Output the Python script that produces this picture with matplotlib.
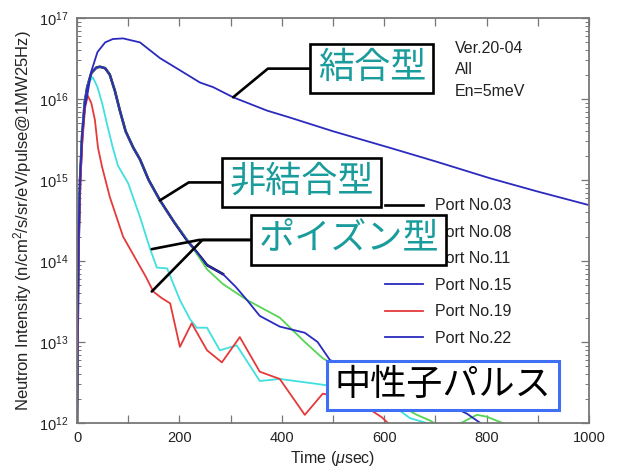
import matplotlib
matplotlib.use("Agg")
import matplotlib.pyplot as plt
from matplotlib.ticker import MultipleLocator

plt.rcParams['font.family'] = ['Liberation Sans', 'Noto Sans CJK JP', 'DejaVu Sans']
plt.rcParams['mathtext.fontset'] = 'custom'
plt.rcParams['mathtext.rm'] = 'Liberation Sans'
plt.rcParams['mathtext.it'] = 'Liberation Sans:italic'

# time (usec) and intensity
t22 = [0, 1, 3, 6, 10, 15, 20, 28, 40, 55, 70, 90, 123, 162, 215, 240, 266, 305,
       371, 416, 500, 611, 700, 807, 900, 1000]
port22 = [7.9e11, 1.0e13, 1.6e14, 1.0e15, 3.5e15, 7.9e15, 1.1e16, 2.2e16, 3.8e16,
          5.0e16, 5.5e16, 5.6e16, 5.0e16, 3.2e16, 2.0e16, 1.6e16, 1.4e16, 1.05e16,
          7.2e15, 5.9e15, 4.0e15, 2.5e15, 1.7e15, 1.05e15, 7.2e14, 4.9e14]

t15 = [0, 1, 3, 6, 10, 15, 20, 28, 38, 45, 55, 64, 74, 84, 95, 110, 123, 140, 162,
       190, 215, 235, 254, 285, 310, 332, 357, 396, 445, 470, 494, 600, 700, 762,
       793, 805]
port15 = [7.9e11, 1.0e13, 1.6e14, 1.0e15, 3.5e15, 8.9e15, 1.4e16, 2.1e16, 2.45e16,
          2.5e16, 2.4e16, 2.0e16, 1.26e16, 7.1e15, 4.0e15, 2.5e15, 1.8e15, 1.0e15,
          5.6e14, 3.0e14, 1.8e14, 1.26e14, 8.9e13, 6.9e13, 4.8e13, 3.3e13, 2.1e13,
          1.55e13, 1.3e13, 1.0e13, 6.0e12, 3.2e12, 2.0e12, 1.3e12, 9.5e11, 7.9e11]

t03 = [0, 1, 3, 6, 10, 15, 20, 28, 38, 45, 55, 64, 74, 84, 95, 110, 123, 140, 162,
       190, 215, 235, 254, 285]
port03 = [7.9e11, 1.0e13, 1.6e14, 1.0e15, 3.5e15, 8.9e15, 1.4e16, 2.1e16, 2.45e16,
          2.5e16, 2.4e16, 2.0e16, 1.26e16, 7.1e15, 4.0e15, 2.5e15, 1.8e15, 1.0e15,
          5.6e14, 3.0e14, 1.8e14, 1.26e14, 8.9e13, 6.9e13]

t11 = [0, 1, 3, 6, 10, 15, 20, 28, 38, 45, 55, 64, 74, 84, 95, 110, 123, 140, 162,
       190, 215, 254, 285, 332, 396, 445, 480, 560, 620, 664, 690, 703, 735, 750,
       781, 800, 840, 850]
port11 = [7.9e11, 1.0e13, 1.6e14, 1.0e15, 3.5e15, 8.9e15, 1.4e16, 2.1e16, 2.45e16,
          2.5e16, 2.4e16, 2.0e16, 1.26e16, 7.1e15, 4.0e15, 2.5e15, 1.8e15, 1.0e15,
          5.5e14, 3.0e14, 1.85e14, 7.9e13, 5.2e13, 3.3e13, 2.0e13, 1.0e13, 6.3e12,
          3.2e12, 1.8e12, 1.26e12, 1.07e12, 9.5e11, 8.9e11, 1.0e12, 1.26e12, 1.2e12,
          9.5e11, 7.9e11]

t08 = [0, 1, 3, 6, 10, 15, 22, 31, 40, 49, 60, 70, 80, 100, 123, 143, 156, 176,
       201, 221, 234, 254, 279, 312, 357, 396, 475, 560, 620, 650, 695, 705]
port08 = [7.9e11, 1.0e13, 1.6e14, 1.0e15, 3.5e15, 8.9e15, 1.6e16, 1.85e16, 1.4e16,
          8.9e15, 4.5e15, 2.5e15, 1.5e15, 9.1e14, 3.5e14, 1.4e14, 8.3e13, 8.1e13,
          3.3e13, 1.9e13, 1.5e13, 1.5e13, 7.9e12, 9.1e12, 3.3e12, 3.5e12, 3.0e12,
          2.5e12, 1.6e12, 1.15e12, 9.5e11, 7.9e11]

t19 = [0, 1, 3, 6, 10, 16, 21, 28, 35, 41, 49, 64, 90, 117, 135, 149, 165, 182,
       201, 224, 254, 283, 318, 357, 396, 445, 480, 540, 596, 611, 620]
port19 = [7.9e11, 7.9e12, 1.26e14, 7.9e14, 2.8e15, 7.9e15, 1.1e16, 8.9e15, 5.5e15,
          2.5e15, 1.45e15, 6.2e14, 2.0e14, 1.0e14, 6.3e13, 4.2e13, 3.5e13, 3.0e13,
          8.7e12, 1.7e13, 7.9e12, 5.6e12, 1.15e13, 4.3e12, 3.5e12, 1.26e12, 2.3e12,
          2.0e12, 1.17e12, 9.5e11, 7.9e11]

fig = plt.figure(figsize=(6.22, 4.7), dpi=100)
ax = fig.add_axes([0.1238, 0.1, 0.823, 0.8617])

lw = 1.3
ax.plot(t03, port03, color='black', lw=lw + 0.6, label='Port No.03')
ax.plot(t08, port08, color='#40e0e0', lw=lw, label='Port No.08')
ax.plot(t11, port11, color='#55d455', lw=lw, label='Port No.11')
ax.plot(t15, port15, color='#2a2abf', lw=lw, label='Port No.15')
ax.plot(t19, port19, color='#e53a3a', lw=lw, label='Port No.19')
ax.plot(t22, port22, color='#2a2abf', lw=lw, label='Port No.22')

ax.set_yscale('log')
ax.set_xlim(0, 1000)
ax.set_ylim(1e12, 1e17)
ax.xaxis.set_major_locator(MultipleLocator(200))
ax.xaxis.set_minor_locator(MultipleLocator(100))

grey = '#777777'
for s in ax.spines.values():
    s.set_color(grey)
    s.set_linewidth(1.3)
ax.tick_params(which='both', direction='in', top=True, right=True, color=grey,
               labelsize=10.5, labelcolor='#222222', pad=6)
ax.tick_params(which='major', length=6, width=0.9)
ax.tick_params(which='minor', length=3, width=0.7)
ax.tick_params(axis='x', which='minor', length=6, width=0.9)

ax.set_xlabel('Time ($\\mu$sec)', fontsize=11.5, color='#222222', labelpad=3)
ax.set_ylabel('Neutron Intensity (n/cm$^2$/s/sr/eV/pulse@1MW25Hz)', fontsize=12,
              color='#222222', labelpad=4)

ax.text(0.738, 0.944, 'Ver.20-04\nAll\nEn=5meV', transform=ax.transAxes,
        fontsize=11.5, color='#222222', va='top', ha='left', linespacing=1.55)

leg = ax.legend(loc='upper left', bbox_to_anchor=(0.6016, 0.555), frameon=False,
                fontsize=11.5, handlelength=2.4, handletextpad=0.75,
                labelspacing=0.72, borderaxespad=0, borderpad=0)
for txt in leg.get_texts():
    txt.set_color('#222222')
leg.set_zorder(5)

teal = '#1a9c9c'
box = dict(boxstyle='square,pad=0.2', fc='white', ec='black', lw=1.9)
lead = dict(arrowstyle='-', color='black', lw=1.9, shrinkA=0, shrinkB=0,
            relpos=(0, 0.5))

def lead_to(angle, patch=True):
    d = dict(lead, connectionstyle='angle,angleA=0,angleB=%g,rad=0' % angle)
    if not patch:
        d['patchA'] = None
    return d

ax.annotate('結合型', xy=(305, 1.05e16), xycoords='data',
            xytext=(0.576, 0.875), textcoords='axes fraction',
            fontsize=26, color=teal, ha='center', va='center', bbox=box,
            arrowprops=lead_to(39.5), zorder=10)

ax.annotate('非結合型', xy=(162, 5.6e14), xycoords='data',
            xytext=(0.439, 0.594), textcoords='axes fraction',
            fontsize=26, color=teal, ha='center', va='center', bbox=box,
            arrowprops=lead_to(32), zorder=10)

ax.annotate('ポイズン型', xy=(146, 4.2e13), xycoords='data',
            xytext=(0.531, 0.452), textcoords='axes fraction',
            fontsize=26, color='none', ha='center', va='center',
            arrowprops=lead_to(45.5, patch=False), zorder=9)
ax.annotate('ポイズン型', xy=(146, 1.4e14), xycoords='data',
            xytext=(0.531, 0.452), textcoords='axes fraction',
            fontsize=26, color=teal, ha='center', va='center', bbox=box,
            arrowprops=lead_to(11), zorder=10)

ax.text(0.715, 0.093, '中性子パルス', transform=ax.transAxes, fontsize=26,
        color='black', ha='center', va='center', zorder=10,
        bbox=dict(boxstyle='square,pad=0.2', fc='white', ec='#3f6ff5', lw=2.2))

fig.savefig('out.png', dpi=100, facecolor='white')
